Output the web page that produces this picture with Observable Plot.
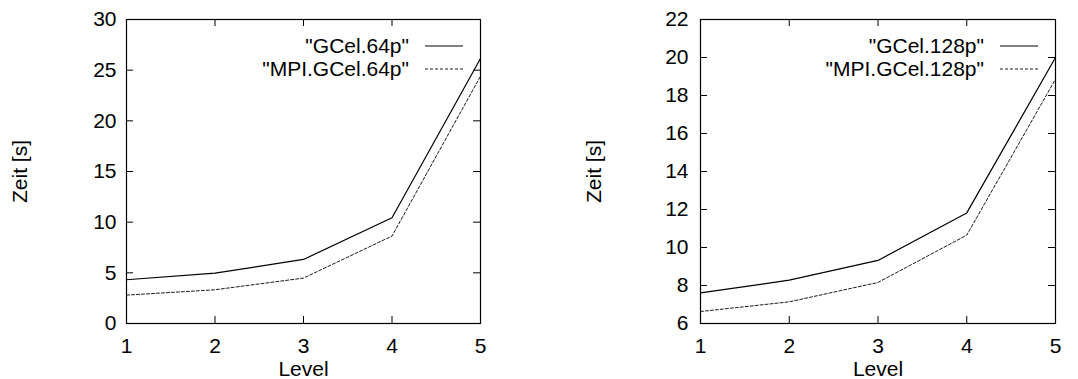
<!DOCTYPE html>
<html>
<head>
<meta charset="utf-8">
<script src="https://cdn.jsdelivr.net/npm/d3@7"></script>
<script src="https://cdn.jsdelivr.net/npm/@observablehq/plot@0.6"></script>
<style>
  html, body { margin: 0; padding: 0; background: #fff; }
  #wrap { display: flex; width: 1078px; height: 379px; }
  #wrap svg { display: block; }
</style>
</head>
<body>
<div id="wrap"></div>
<script>
// ---- data ----
const levels = [1, 2, 3, 4, 5];
const gcel64 = [4.32, 4.97, 6.32, 10.44, 26.15];
const mpiGcel64 = [2.8, 3.33, 4.48, 8.63, 24.4];
const gcel128 = [7.61, 8.28, 9.32, 11.82, 20.0];
const mpiGcel128 = [6.63, 7.14, 8.16, 10.65, 18.86];

const xTicks = [1, 2, 3, 4, 5];
const yTicksLeft = [0, 5, 10, 15, 20, 25, 30];
const yTicksRight = [6, 8, 10, 12, 14, 16, 18, 20, 22];

const seriesLeft = [
  {name: '"GCel.64p"', values: gcel64, dash: null},
  {name: '"MPI.GCel.64p"', values: mpiGcel64, dash: "3,2"}
];
const seriesRight = [
  {name: '"GCel.128p"', values: gcel128, dash: null},
  {name: '"MPI.GCel.128p"', values: mpiGcel128, dash: "3,2"}
];

const FONT = "'Liberation Sans', Arial, Helvetica, sans-serif";

function makeChart({series, yDomain, yTicks, marginLeft, marginRight, yTickPad, yLabelOffset}) {
  const width = 539, height = 379, marginTop = 19, marginBottom = 56;
  const innerW = width - marginLeft - marginRight;
  const innerH = height - marginTop - marginBottom;
  const tickLen = 7;
  const marks = [];
  series.forEach(s => {
    const rows = levels.map((l, i) => ({level: l, value: s.values[i]}));
    marks.push(Plot.line(rows, {x: "level", y: "value", stroke: "#000", strokeWidth: s.dash ? 0.9 : 1.2, strokeDasharray: s.dash}));
  });
  marks.push(
    Plot.tickX(xTicks, {x: d => d, insetTop: innerH - tickLen, stroke: "#000"}),
    Plot.tickX(xTicks, {x: d => d, insetBottom: innerH - tickLen, stroke: "#000"}),
    Plot.tickY(yTicks, {y: d => d, insetRight: innerW - tickLen, stroke: "#000"}),
    Plot.tickY(yTicks, {y: d => d, insetLeft: innerW - tickLen, stroke: "#000"}),
    Plot.frame({stroke: "#000", strokeWidth: 1.2}),
    Plot.axisX(xTicks, {tickSize: 0, tickPadding: 15, fontSize: 21, label: "Level", labelAnchor: "center", labelOffset: 52, labelArrow: "none", tickFormat: d => String(d)}),
    Plot.axisY(yTicks, {tickSize: 0, tickPadding: yTickPad, fontSize: 21, label: "Zeit [s]", labelAnchor: "center", labelOffset: yLabelOffset, labelArrow: "none", tickFormat: d => String(d)})
  );
  const svg = Plot.plot({
    width, height, marginTop, marginBottom, marginLeft, marginRight,
    style: {fontFamily: FONT, fontSize: "21px", color: "#000", background: "#fff"},
    x: {domain: [1, 5]},
    y: {domain: yDomain},
    marks
  });
  // legend (top-right inside frame)
  const g = d3.select(svg).append("g").attr("font-family", FONT).attr("font-size", 21);
  const right = width - marginRight;
  series.forEach((s, i) => {
    const yy = 46 + i * 23;
    g.append("text").attr("x", right - 71).attr("y", yy).attr("dy", "0.35em")
      .attr("text-anchor", "end").attr("fill", "#000").text(s.name);
    g.append("line").attr("x1", right - 55).attr("x2", right - 17).attr("y1", yy).attr("y2", yy)
      .attr("stroke", "#000").attr("stroke-width", s.dash ? 0.9 : 1.2)
      .attr("stroke-dasharray", s.dash);
  });
  return svg;
}

const wrap = document.getElementById("wrap");
wrap.appendChild(makeChart({series: seriesLeft, yDomain: [0, 30], yTicks: yTicksLeft, marginLeft: 126, marginRight: 59, yTickPad: 10, yLabelOffset: 114}));
wrap.appendChild(makeChart({series: seriesRight, yDomain: [6, 22], yTicks: yTicksRight, marginLeft: 161, marginRight: 23, yTickPad: 12, yLabelOffset: 114}));
</script>
</body>
</html>
